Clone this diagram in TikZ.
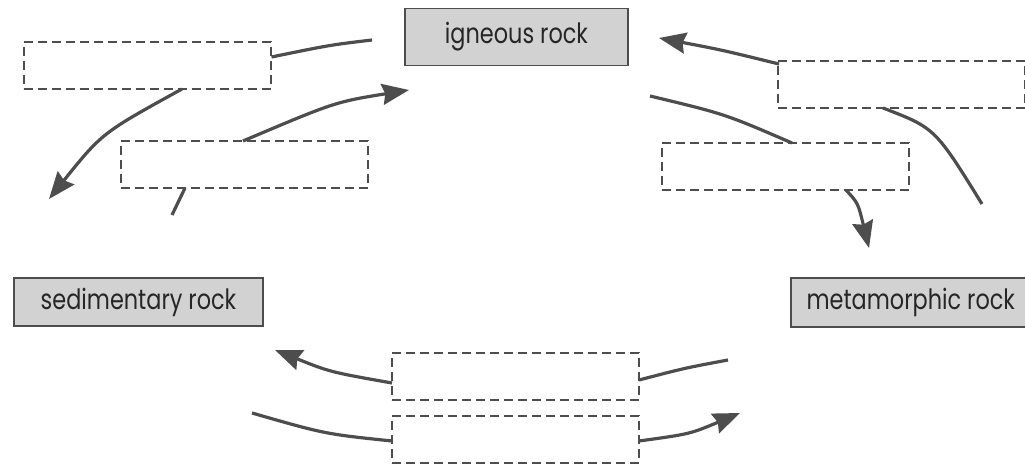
\documentclass[tikz,border=0pt]{standalone}
\usepackage{fontspec}
\newfontfamily\labfont[FakeStretch=0.8]{Poppins}
\usetikzlibrary{arrows.meta}
\definecolor{ink}{HTML}{4D4D4D}
\definecolor{boxfill}{HTML}{D2D2D2}
\tikzset{
  rockbox/.style={draw=ink, line width=1.6pt, fill=boxfill, inner sep=0pt, font=\labfont\fontsize{28}{32}\selectfont, text=black!85},
  blank/.style={draw=ink, line width=2pt, dash pattern=on 9pt off 5pt, inner sep=0pt, minimum width=247pt, minimum height=47pt},
  flow/.style={draw=ink, line width=3.2pt},
  flowarrow/.style={flow, -{Stealth[length=27pt,width=21pt,inset=3pt]}}
}
\begin{document}
\begin{tikzpicture}[x=1pt,y=-1pt]
\useasboundingbox (0,0) rectangle (1025,468);
% rock boxes
\node[rockbox, minimum width=223pt, minimum height=57pt] (ign) at (516.5,37) {igneous rock};
\node[rockbox, minimum width=249pt, minimum height=48pt] (sed) at (138.5,302) {sedimentary rock};
\node[rockbox, minimum width=240pt, minimum height=49pt, anchor=west] (met) at (790,302.5) {metamorphic rock};
% blank boxes
\node[blank] (d1) at (147,65.5) {};
\node[blank] (d2) at (244.5,164.5) {};
\node[blank] (d3) at (901.5,84.5) {};
\node[blank] (d4) at (785,166.5) {};
\node[blank] (d5) at (515.5,376.5) {};
\node[blank] (d6) at (515.5,439.5) {};
% free ends and attachment points
\coordinate (a1s) at (372,40);
\coordinate (a1e) at (d1.east |- 0,57);
\coordinate (a1b) at (182,89);
\coordinate (a1t) at (49,199);
\coordinate (a2s) at (172,215);
\coordinate (a2b) at (185,188);
\coordinate (a2u) at (243,141);
\coordinate (a2t) at (409,90);
\coordinate (a3s) at (779,64);
\coordinate (a3t) at (659,38);
\coordinate (a4s) at (883,108);
\coordinate (a4e) at (982,204);
\coordinate (a5s) at (650,96);
\coordinate (a5e) at (792,143);
\coordinate (a6s) at (846,190);
\coordinate (a6t) at (869,248);
\coordinate (a7s) at (728,360);
\coordinate (a7e) at (639,380);
\coordinate (a7l) at (392,383);
\coordinate (a7t) at (275,350);
\coordinate (a8s) at (252,413);
\coordinate (a8e) at (392,441);
\coordinate (a8r) at (639,441);
\coordinate (a8t) at (740,413);
% connectors
\draw[flow] (a1s) .. controls (330,45) .. (a1e);
\draw[flowarrow] (a1b) .. controls (102,133) .. (a1t);
\draw[flow] (a2s) -- (a2b);
\draw[flowarrow] (a2u) .. controls (335,102) .. (a2t);
\draw[flowarrow] (a3s) .. controls (722,50) .. (a3t);
\draw[flow] (a4s) .. controls (935,128) .. (a4e);
\draw[flow] (a5s) .. controls (725,114) .. (a5e);
\draw[flowarrow] (a6s) .. controls (858,203) .. (a6t);
\draw[flow] (a7s) .. controls (685,368) .. (a7e);
\draw[flowarrow] (a7l) .. controls (330,372) .. (a7t);
\draw[flow] (a8s) .. controls (325,434) .. (a8e);
\draw[flowarrow] (a8r) .. controls (690,434) .. (a8t);
\end{tikzpicture}
\end{document}
